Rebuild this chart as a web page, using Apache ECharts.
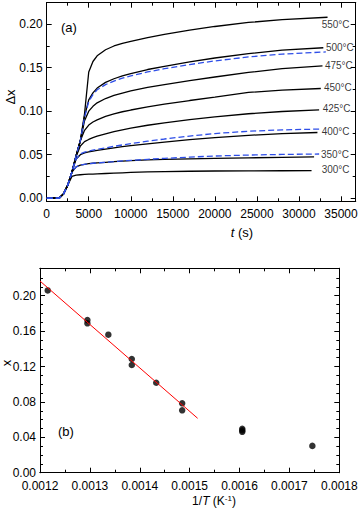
<!DOCTYPE html>
<html>
<head>
<meta charset="utf-8">
<script src="https://cdn.jsdelivr.net/npm/echarts@6/dist/echarts.min.js"></script>
<style>
html,body{margin:0;padding:0;background:#fff;}
#c{width:360px;height:512px;}
</style>
</head>
<body>
<div id="c"></div>
<script>
// ---------- DATA: panel (a) ----------
const T = [0,1000,1500,2000,2500,3000,3500,4000,4500,5000,5500,6000,7000,8000,9000,10000,12000,14000,17000,20000,24000,28000];
const end300 = 31500, v300 = [0,0,0.0003,0.005,0.015,0.025,0.0265,0.027,0.0273,0.0276,0.0278,0.028,0.0284,0.0288,0.0292,0.0296,0.0302,0.0306,0.031,0.0313,0.0315,0.0316,0.0317];
const end350 = 31800, v350 = [0,0,0.0003,0.005,0.015,0.030,0.036,0.038,0.039,0.0397,0.0402,0.0406,0.0413,0.0420,0.0427,0.0433,0.0441,0.0447,0.0453,0.0458,0.0464,0.0469,0.0474];
const end350b = 32400, v350b = [0,0,0.0003,0.005,0.015,0.030,0.036,0.038,0.039,0.0397,0.0402,0.0406,0.0413,0.0420,0.0428,0.0435,0.0447,0.0458,0.0472,0.0485,0.0496,0.0503,0.0508];
const end400 = 32200, v400 = [0,0,0.0003,0.005,0.015,0.030,0.045,0.050,0.052,0.0532,0.0542,0.055,0.0565,0.0579,0.0592,0.0604,0.0625,0.0645,0.0672,0.0697,0.0722,0.0742,0.0755];
const end400b = 32400, v400b = [0,0,0.0003,0.005,0.015,0.030,0.045,0.051,0.053,0.0543,0.0553,0.0562,0.0579,0.0596,0.0612,0.0627,0.0655,0.068,0.0714,0.0743,0.0769,0.0785,0.0794];
const end425 = 32400, v425 = [0,0,0.0003,0.005,0.015,0.030,0.048,0.060,0.065,0.0675,0.0695,0.0712,0.0740,0.0765,0.0786,0.0805,0.0838,0.0866,0.0903,0.0935,0.0970,0.0996,0.1015];
const end450 = 32600, v450 = [0,0,0.0003,0.005,0.015,0.030,0.049,0.066,0.078,0.0840,0.0875,0.0900,0.0940,0.0970,0.0993,0.1013,0.1048,0.1080,0.1122,0.1160,0.1215,0.1242,0.126];
const end475 = 32800, v475 = [0,0,0.0003,0.005,0.015,0.030,0.049,0.066,0.089,0.100,0.1055,0.1095,0.1145,0.1180,0.1208,0.1232,0.1272,0.1305,0.1350,0.1392,0.1445,0.1487,0.152];
const end500 = 32900, v500 = [0,0,0.0003,0.005,0.015,0.030,0.049,0.066,0.094,0.113,0.121,0.1265,0.1330,0.1372,0.1405,0.1432,0.1478,0.1515,0.1565,0.1610,0.1660,0.1700,0.1728];
const end500b = 33200, v500b = [0,0,0.0003,0.005,0.015,0.030,0.049,0.066,0.093,0.111,0.119,0.1245,0.1305,0.1345,0.1378,0.1405,0.1450,0.1487,0.1535,0.1577,0.1622,0.1655,0.168];
const end550 = 33400, v550 = [0,0,0.0003,0.005,0.015,0.030,0.049,0.066,0.097,0.145,0.157,0.1635,0.1705,0.1748,0.1778,0.1802,0.1845,0.1882,0.1930,0.1972,0.2018,0.2050,0.2078];

const tempNames = ['550°C','500°C','475°C','450°C','425°C','400°C','350°C','300°C'];
const tempLabelT = [32700,33210,33090,32970,32820,32700,32620,32700];
const tempLabelV = [0.200,0.1728,0.152,0.1275,0.103,0.0763,0.0508,0.0328];

const aXMajor = [0,5000,10000,15000,20000,25000,30000,35000];
const aXMinor = [2500,7500,12500,17500,22500,27500,32500];
const aYMajor = [0,0.05,0.10,0.15,0.20];
const aYMinor = [0.025,0.075,0.125,0.175];

// ---------- DATA: panel (b) ----------
const invT = [0.0012155,0.001295,0.001295,0.001337,0.001384,0.001384,0.001433,0.001485,0.001485,0.0016055,0.0016055,0.0016055,0.001746];
const xVal = [0.206,0.1725,0.1688,0.156,0.1285,0.1217,0.1017,0.0784,0.0705,0.0497,0.0478,0.0462,0.0303];
const fitX = [0.0012,0.001516];
const fitY = [0.2166,0.0615];

const bXMajor = [0.0012,0.0013,0.0014,0.0015,0.0016,0.0017,0.0018];
const bXMinor = [0.00125,0.00135,0.00145,0.00155,0.00165,0.00175];
const bYMajor = [0,0.04,0.08,0.12,0.16,0.20];
const bYMinor = [0.01,0.02,0.03,0.05,0.06,0.07,0.09,0.10,0.11,0.13,0.14,0.15,0.17,0.18,0.19,0.21,0.22];

// ---------- build ----------
const FONT = 'Liberation Sans, Arial, sans-serif';
function pairs(end, vals){ const ts = T.concat([end]); return ts.map((t,i)=>[t, vals[i]]); }

function axisSet(dim, gridIndex, min, max, major, minor, fmt, margin){
  const pos = dim==='x' ? ['bottom','top'] : ['left','right'];
  const base = {type:'value', gridIndex, min, max, scale:true,
    splitLine:{show:false},
    axisLine:{show:true, onZero:false, lineStyle:{color:'#000', width:1}}};
  const out = [];
  pos.forEach((p,pi)=>{
    out.push(Object.assign({}, base, {position:p,
      axisTick:{show:true, inside:true, length:5, customValues:major, lineStyle:{color:'#000',width:1}},
      axisLabel: pi===0 ? {show:true, customValues:major, formatter:fmt, color:'#000', fontFamily:FONT, fontSize:12, lineHeight:11, margin:margin} : {show:false}
    }));
    out.push(Object.assign({}, base, {position:p,
      axisTick:{show:true, inside:true, length:3, customValues:minor, lineStyle:{color:'#000',width:1}},
      axisLabel:{show:false}
    }));
  });
  return out;
}

const xAxes = [].concat(
  axisSet('x',0,0,36750,aXMajor,aXMinor,v=>String(Math.round(v)),7),
  axisSet('x',1,0.0012,0.0018,bXMajor,bXMinor,v=>v.toFixed(4),8)
);
const yAxes = [].concat(
  axisSet('y',0,-0.0035,0.2245,aYMajor,aYMinor,v=>v.toFixed(2),4),
  axisSet('y',1,0,0.231,bYMajor,bYMinor,v=>v.toFixed(2),4)
);

const BLACK = '#000', BLUE = '#2e4ee8';
function lineSeries(name, data, color, dashed){
  return {type:'line', name, xAxisIndex:0, yAxisIndex:0, data, showSymbol:false, symbol:'none',
    smooth:false, animation:false, z: dashed?3:2,
    lineStyle:{color, width:1.3, type: dashed?[6,3]:'solid'}};
}

const series = [
  lineSeries('300', pairs(end300,v300), BLACK, false),
  lineSeries('350', pairs(end350,v350), BLACK, false),
  lineSeries('400', pairs(end400,v400), BLACK, false),
  lineSeries('425', pairs(end425,v425), BLACK, false),
  lineSeries('450', pairs(end450,v450), BLACK, false),
  lineSeries('475', pairs(end475,v475), BLACK, false),
  lineSeries('500', pairs(end500,v500), BLACK, false),
  lineSeries('550', pairs(end550,v550), BLACK, false),
  lineSeries('350 fit', pairs(end350b,v350b), BLUE, true),
  lineSeries('400 fit', pairs(end400b,v400b), BLUE, true),
  lineSeries('500 fit', pairs(end500b,v500b), BLUE, true),
  {type:'scatter', xAxisIndex:0, yAxisIndex:0, symbolSize:0, animation:false, silent:true,
    data: tempNames.map((n,i)=>({value:[tempLabelT[i], tempLabelV[i]], name:n})),
    label:{show:true, position:'right', distance:0, formatter:p=>p.name, color:'#000', fontFamily:FONT, fontSize:10}},
  {type:'line', xAxisIndex:4, yAxisIndex:4, data: fitX.map((x,i)=>[x,fitY[i]]), showSymbol:false, symbol:'none',
    animation:false, lineStyle:{color:'#ff0000', width:1}},
  {type:'scatter', xAxisIndex:4, yAxisIndex:4, data: invT.map((x,i)=>[x,xVal[i]]), symbol:'circle', symbolSize:6.5,
    animation:false, itemStyle:{color:'#000'}}
];

const chart = echarts.init(document.getElementById('c'), null, {renderer:'svg'});
chart.setOption({
  backgroundColor:'#fff',
  animation:false,
  grid:[
    {left:46.7, top:2.7, right:4.3, bottom:310.7, containLabel:false, outerBoundsMode:'none'},
    {left:40, top:268.3, right:20.7, bottom:39.3, containLabel:false, outerBoundsMode:'none'}
  ],
  xAxis: xAxes,
  yAxis: yAxes,
  series,
  graphic:[
    {type:'text', left:61, top:21, style:{text:'(a)', font:'13px '+FONT, fill:'#000'}},
    {type:'text', left:58, top:425, style:{text:'(b)', font:'13px '+FONT, fill:'#000'}},
    {type:'text', x:242, y:232, style:{text:'{i|t} (s)', align:'center', verticalAlign:'middle', font:'13px '+FONT, fill:'#000',
      rich:{i:{fontStyle:'italic', fontSize:13, fontFamily:FONT}}}},
    {type:'text', x:10, y:97, rotation:Math.PI/2, style:{text:'Δx', align:'center', verticalAlign:'middle', font:'13px '+FONT, fill:'#000'}},
    {type:'text', x:6, y:363, rotation:Math.PI/2, style:{text:'x', align:'center', verticalAlign:'middle', font:'13px '+FONT, fill:'#000'}},
    {type:'text', x:214, y:501, style:{text:'1/{i|T} (K{s|-1})', align:'center', verticalAlign:'middle', font:'12px '+FONT, fill:'#000',
      rich:{i:{fontStyle:'italic', fontSize:12, fontFamily:FONT}, s:{fontSize:8, fontFamily:FONT, verticalAlign:'bottom', padding:[0,0,6,0]}}}}
  ]
});
</script>
</body>
</html>
